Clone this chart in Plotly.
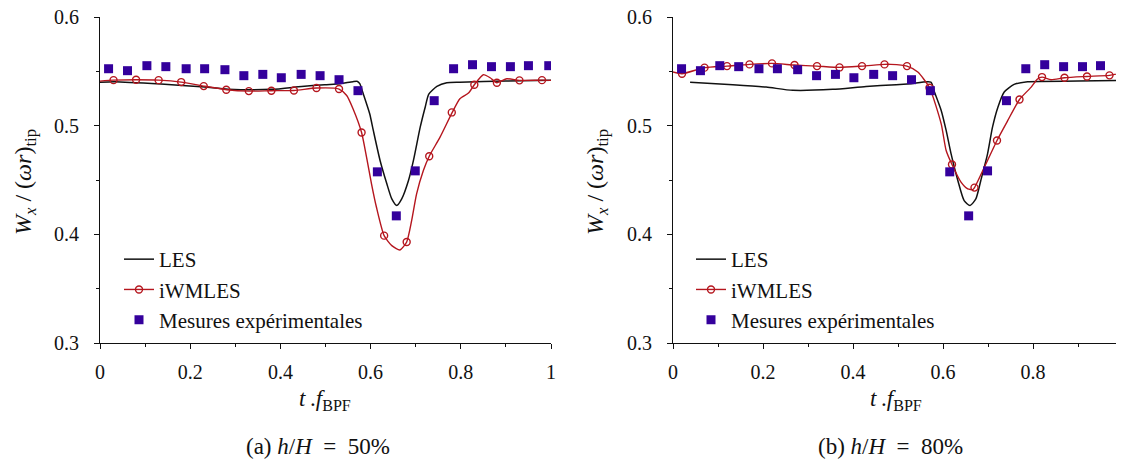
import plotly.graph_objects as go

# ---------------- data ----------------
# experimental measurements (same in both panels)
exp_t = [0.019, 0.061, 0.104, 0.146, 0.191, 0.232, 0.277, 0.319, 0.361, 0.402, 0.446, 0.488,
         0.530, 0.572, 0.615, 0.657, 0.699, 0.741, 0.784, 0.826, 0.868, 0.910, 0.950, 0.995]
exp_v = [0.5524, 0.5506, 0.5552, 0.5543, 0.5524, 0.5524, 0.5515, 0.5460, 0.5472, 0.5441, 0.5472, 0.5460,
         0.5423, 0.5322, 0.4575, 0.4170, 0.4584, 0.5230, 0.5524, 0.5561, 0.5543, 0.5543, 0.5552, 0.5552]

# (a) h/H = 50%
les_a_t = [0.0, 0.032, 0.135, 0.232, 0.284, 0.38, 0.447, 0.498, 0.532, 0.561, 0.571, 0.576, 0.584,
           0.598, 0.606, 0.621, 0.636, 0.647, 0.658, 0.669, 0.684, 0.695, 0.710, 0.721, 0.729,
           0.747, 0.769, 0.798, 0.9, 1.0]
les_a_v = [0.540, 0.5405, 0.5383, 0.5355, 0.5336, 0.5334, 0.5361, 0.5377, 0.5386, 0.5405, 0.5407, 0.5386, 0.529,
           0.511, 0.4956, 0.468, 0.4465, 0.4326, 0.4265, 0.4326, 0.4495, 0.468, 0.4986, 0.517, 0.529,
           0.5361, 0.5395, 0.540, 0.541, 0.5417]

iwm_a_t = [0.0, 0.03, 0.08, 0.13, 0.18, 0.23, 0.281, 0.33, 0.38, 0.43, 0.48, 0.53, 0.547, 0.561, 0.58,
           0.591, 0.602, 0.613, 0.63, 0.647, 0.665, 0.68, 0.691, 0.702, 0.717, 0.73, 0.754, 0.781,
           0.798, 0.817, 0.83, 0.85, 0.865, 0.88, 0.902, 0.93, 0.98, 1.0]
iwm_a_v = [0.541, 0.5419, 0.5423, 0.5419, 0.5401, 0.5364, 0.5331, 0.5318, 0.5322, 0.5324, 0.5346, 0.5337, 0.5278, 0.5156, 0.4937,
           0.471, 0.4465, 0.4249, 0.3988, 0.3896, 0.3856, 0.393, 0.4126, 0.4372, 0.4587, 0.4719, 0.4894, 0.5122,
           0.5248, 0.530, 0.5377, 0.5469, 0.5441, 0.5395, 0.5432, 0.5417, 0.5419, 0.5417]

iwm_a_mt = [0.03, 0.08, 0.13, 0.18, 0.23, 0.28, 0.33, 0.38, 0.43, 0.48,
            0.53, 0.58, 0.63, 0.68, 0.73, 0.78, 0.83, 0.88, 0.93, 0.98]
iwm_a_mv = [0.5419, 0.5423, 0.5419, 0.5401, 0.5364, 0.5331, 0.5318, 0.5322, 0.5324, 0.5346,
            0.5337, 0.4937, 0.3988, 0.3930, 0.4719, 0.5122, 0.5377, 0.5395, 0.5417, 0.5419]

# (b) h/H = 80%
les_b_t = [0.038, 0.133, 0.207, 0.266, 0.355, 0.429, 0.496, 0.529, 0.573, 0.581, 0.596, 0.607, 0.618,
           0.633, 0.647, 0.660, 0.673, 0.684, 0.699, 0.710, 0.722, 0.736, 0.758, 0.788, 0.9, 1.0]
les_b_v = [0.540, 0.5377, 0.5355, 0.5325, 0.5334, 0.5361, 0.5377, 0.5386, 0.540, 0.531, 0.514, 0.4956, 0.474,
           0.4495, 0.431, 0.4265, 0.4326, 0.4495, 0.474, 0.4986, 0.517, 0.531, 0.538, 0.5405, 0.541, 0.5417]

iwm_b_t = [0.0, 0.02, 0.07, 0.12, 0.17, 0.22, 0.27, 0.32, 0.37, 0.42, 0.47, 0.484, 0.52, 0.544, 0.57,
           0.596, 0.607, 0.62, 0.64, 0.655, 0.666, 0.67, 0.72, 0.744, 0.77, 0.796, 0.81, 0.82, 0.84,
           0.87, 0.92, 0.97, 1.0]
iwm_b_v = [0.5494, 0.5478, 0.5534, 0.5548, 0.5564, 0.5573, 0.5558, 0.5548, 0.5536, 0.5548, 0.5564, 0.5564, 0.5548, 0.5493, 0.5349,
           0.5017, 0.4771, 0.4642, 0.448, 0.4418, 0.4412, 0.443, 0.4864, 0.5048, 0.5241, 0.5355, 0.543, 0.5447, 0.5423,
           0.5441, 0.5453, 0.5463, 0.5488]

iwm_b_mt = [0.02, 0.07, 0.12, 0.17, 0.22, 0.27, 0.32, 0.37, 0.42, 0.47,
            0.52, 0.57, 0.62, 0.67, 0.72, 0.77, 0.82, 0.87, 0.92, 0.97]
iwm_b_mv = [0.5478, 0.5534, 0.5548, 0.5564, 0.5573, 0.5558, 0.5548, 0.5536, 0.5548, 0.5564,
            0.5548, 0.5349, 0.4642, 0.4430, 0.4864, 0.5241, 0.5447, 0.5441, 0.5453, 0.5463]

names = ["LES", "iWMLES", "Mesures expérimentales"]
captions = ["(a) <i>h</i>/<i>H</i>  =  50%", "(b) <i>h</i>/<i>H</i>  =  80%"]
x_ticks = [0, 0.2, 0.4, 0.6, 0.8, 1]
x_ticktext = ["0", "0.2", "0.4", "0.6", "0.8", "1"]
y_ticks = [0.3, 0.4, 0.5, 0.6]
y_ticktext = ["0.3", "0.4", "0.5", "0.6"]

# ---------------- styling ----------------
FONT = "Liberation Serif"
BLACK = "#111111"
RED = "#b5161e"
BLUE = "#34009c"
OFF = 8                      # page body margin
W, H = 1124 - OFF, 463 - OFF


def fx(px):
    return (px - OFF) / W


def fy(py):
    return 1 - (py - OFF) / H


fig = go.Figure()

panels = [
    (les_a_t, les_a_v, iwm_a_t, iwm_a_v, iwm_a_mt, iwm_a_mv, "x", "y", "legend"),
    (les_b_t, les_b_v, iwm_b_t, iwm_b_v, iwm_b_mt, iwm_b_mv, "x2", "y2", "legend2"),
]

for lt, lv, it, iv, mt, mv, xa, ya, lg in panels:
    fig.add_trace(go.Scatter(x=lt, y=lv, mode="lines", name=names[0], xaxis=xa, yaxis=ya,
                             line=dict(color=BLACK, width=1.5, shape="spline", smoothing=0.6),
                             legend=lg))
    fig.add_trace(go.Scatter(x=it, y=iv, mode="lines", name=names[1], xaxis=xa, yaxis=ya,
                             line=dict(color=RED, width=1.4, shape="spline", smoothing=0.6),
                             showlegend=False, legend=lg))
    fig.add_trace(go.Scatter(x=mt, y=mv, mode="markers", name=names[1], xaxis=xa, yaxis=ya,
                             marker=dict(symbol="circle-open", size=7, color=RED, line=dict(width=1.4)),
                             showlegend=False, legend=lg))
    # legend entry for iWMLES (line + circle)
    fig.add_trace(go.Scatter(x=[None], y=[None], mode="lines+markers", name=names[1], xaxis=xa, yaxis=ya,
                             line=dict(color=RED, width=1.4),
                             marker=dict(symbol="circle-open", size=7, color=RED, line=dict(width=1.4)),
                             legend=lg))
    fig.add_trace(go.Scatter(x=exp_t, y=exp_v, mode="markers", name=names[2], xaxis=xa, yaxis=ya,
                             marker=dict(symbol="square", size=9, color=BLUE),
                             legend=lg))

ydom = [fy(343), fy(17)]
xdom1 = [fx(100), fx(551)]
xdom2 = [fx(673), min(1.0, fx(1123))]

TICKF = dict(family=FONT, size=20, color=BLACK)
xcommon = dict(range=[0, 1], tickvals=x_ticks, ticktext=x_ticktext,
               ticks="outside", ticklen=5, tickwidth=1, tickcolor=BLACK,
               showline=True, linecolor=BLACK, linewidth=1, showgrid=False, zeroline=False,
               minor=dict(tickvals=[0.1, 0.3, 0.5, 0.7, 0.9], ticks="outside", ticklen=3,
                          tickcolor=BLACK, tickwidth=1, showgrid=False),
               tickfont=TICKF, ticklabelstandoff=6, ticklabeloverflow="allow",
               automargin=False, fixedrange=True)
ycommon = dict(range=[0.3, 0.6], tickvals=y_ticks, ticktext=y_ticktext,
               ticks="outside", ticklen=5, tickwidth=1, tickcolor=BLACK,
               showline=True, linecolor=BLACK, linewidth=1, showgrid=False, zeroline=False,
               minor=dict(tickvals=[0.35, 0.45, 0.55], ticks="outside", ticklen=3,
                          tickcolor=BLACK, tickwidth=1, showgrid=False),
               tickfont=TICKF, ticklabelstandoff=11, ticklabeloverflow="allow",
               automargin=False, fixedrange=True)

legcommon = dict(font=dict(family=FONT, size=21, color=BLACK), bgcolor="rgba(0,0,0,0)",
                 borderwidth=0, yanchor="top", xanchor="left", tracegroupgap=0, itemwidth=30)

fig.update_layout(
    width=W, height=H,
    margin=dict(l=0, r=0, t=0, b=0, autoexpand=False),
    paper_bgcolor="white", plot_bgcolor="white",
    font=dict(family=FONT, color=BLACK),
    xaxis=dict(domain=xdom1, anchor="y", **xcommon),
    yaxis=dict(domain=ydom, anchor="x", **ycommon),
    xaxis2=dict(domain=xdom2, anchor="y2", **xcommon),
    yaxis2=dict(domain=ydom, anchor="x2", **ycommon),
    legend=dict(x=fx(119), y=fy(239), **legcommon),
    legend2=dict(x=fx(691), y=fy(239), **legcommon),
)

ytitle = "<i>W</i><sub><i>x</i></sub> / (<i>ωr</i>)<sub>tip</sub>"
xtitle = "<i>t</i>\u2009.<i>f</i><sub>BPF</sub>"
annots = []
for cx_plot, yx, cap_x, cap in [(325, 25, 318, captions[0]), (896, 597, 890, captions[1])]:
    annots.append(dict(text=ytitle, x=fx(yx), y=fy(182), xref="paper", yref="paper",
                       textangle=-90, showarrow=False, xanchor="center", yanchor="middle",
                       font=dict(family=FONT, size=24, color=BLACK)))
    annots.append(dict(text=xtitle, x=fx(cx_plot), y=fy(400), xref="paper", yref="paper",
                       showarrow=False, xanchor="center", yanchor="middle",
                       font=dict(family=FONT, size=23, color=BLACK)))
    annots.append(dict(text=cap, x=fx(cap_x), y=fy(446),
                       xref="paper", yref="paper", showarrow=False, xanchor="center", yanchor="middle",
                       font=dict(family=FONT, size=23, color=BLACK)))
fig.update_layout(annotations=annots)

fig.write_html("out.html")
